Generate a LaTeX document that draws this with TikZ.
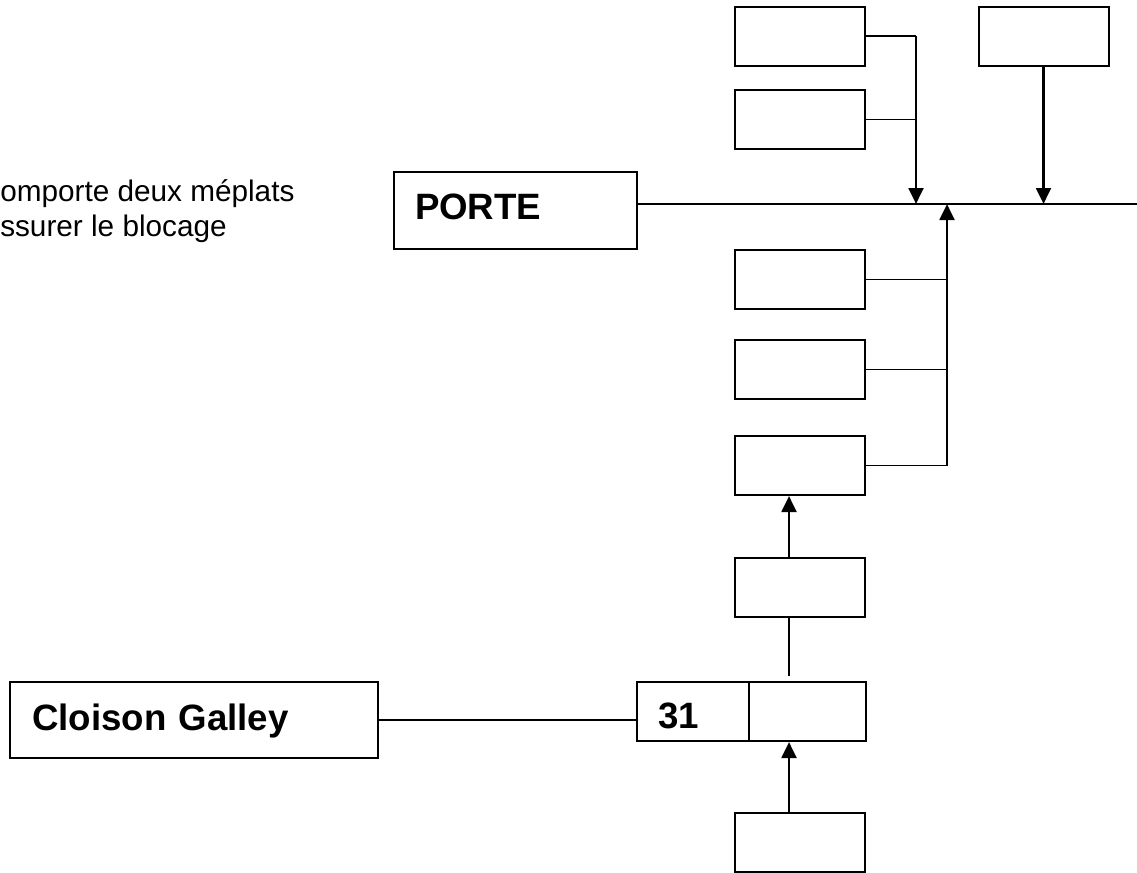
\documentclass[tikz,border=0pt]{standalone}
\usepackage{fontspec}
\setmainfont{Liberation Sans}
\usetikzlibrary{arrows.meta}
\tikzset{
  blk/.style={draw,line width=1.5pt,inner sep=0pt,minimum width=97.5pt,minimum height=44.25pt},
  lbl/.style={draw,line width=1.5pt,inner ysep=0pt,align=left,font=\fontsize{27.5}{32}\selectfont\bfseries},
  arr/.style={line width=2.2pt,-{Triangle[length=12pt,width=11pt]}},
  lnk/.style={line width=1.3pt}
}
\begin{document}
\begin{tikzpicture}[x=0.75pt,y=-0.75pt]
\useasboundingbox (0,0) rectangle (1137,872);
% coordinates
\coordinate (spine) at (789,0);
\coordinate (jL)    at (916,204);
\coordinate (jR)    at (947,204);
\coordinate (bus)   at (1137,204);
% note
\node[anchor=base west,inner sep=0pt,font=\fontsize{22.3}{26}\selectfont] (note1) at (0,201) {omporte deux méplats};
\node[anchor=base west,inner sep=0pt,font=\fontsize{22.3}{26}\selectfont] (note2) at (0,236) {ssurer le blocage};
% labelled boxes
\node[lbl,text width=150.75pt,inner xsep=15.75pt,minimum height=57.75pt,text height=19.5pt,text depth=6.75pt] (porte) at (515.5,210.5) {PORTE};
\node[lbl,text width=243pt,inner xsep=16.5pt,minimum height=57pt,text height=19.5pt,text depth=4.5pt] (galley) at (194,720) {Cloison Galley};
\node[lbl,text width=52.5pt,inner xsep=15.75pt,minimum height=44.25pt,text height=24.75pt,text depth=0pt] (n31) at (693,711.5) {31};
% empty boxes
\node[blk] (b1) at (800,36) {};
\node[blk] (b2) at (800,119.5) {};
\node[blk] (b3) at (1043.5,36) {};
\node[blk] (b4) at (800,279.5) {};
\node[blk] (b5) at (800,369.5) {};
\node[blk] (b6) at (800,465.5) {};
\node[blk] (b7) at (800,587) {};
\node[blk,minimum width=87.75pt] (b8) at (807.5,711.5) {};
\node[blk] (b9) at (800,842) {};
% main line
\draw[line width=1pt] (porte.east |- bus) -- (bus);
% upper branch
\draw[lnk] (b1.east) -- (b1.east -| jL);
\draw[lnk] (b2.east) -- (b2.east -| jL);
\draw[arr] (b1.east -| jL) -- (jL);
\draw[arr] (b3.south) -- (b3.south |- bus);
% lower branch
\draw[lnk] (b4.east) -- (b4.east -| jR);
\draw[lnk] (b5.east) -- (b5.east -| jR);
\draw[lnk] (b6.east) -- (b6.east -| jR);
\draw[arr] (b6.east -| jR) -- (jR);
% column
\draw[arr] (b7.north -| spine) -- (b6.south -| spine);
\draw[lnk,shorten >=3.75pt] (b7.south -| spine) -- (b8.north -| spine);
\draw[arr] (b9.north -| spine) -- (b8.south -| spine);
\draw[lnk] (galley.east) -- (galley.east -| n31.west);
\end{tikzpicture}
\end{document}
